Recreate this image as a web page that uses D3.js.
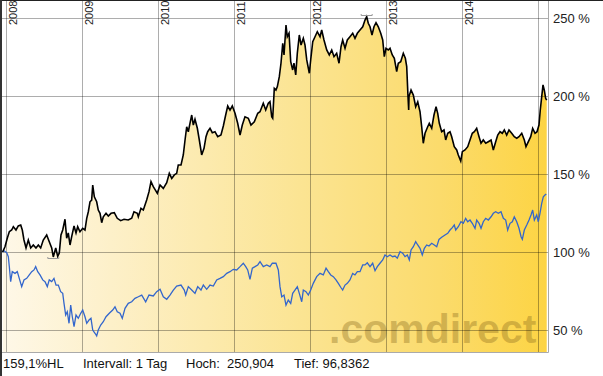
<!DOCTYPE html>
<html>
<head>
<meta charset="utf-8">
<script src="https://cdn.jsdelivr.net/npm/d3@7"></script>
<style>
body { margin: 0; background: #fff; }
svg { display: block; font-family: "Liberation Sans", Arial, sans-serif; }
</style>
</head>
<body>
<script>
// stock, indexed to 100 at start (time as fractional years)
var stockT = [
	2007.950, 2007.980, 2008.011, 2008.037, 2008.068, 2008.090, 2008.125, 2008.155, 2008.187, 2008.208,
	2008.230, 2008.257, 2008.287, 2008.319, 2008.353, 2008.388, 2008.419, 2008.450, 2008.484, 2008.529,
	2008.563, 2008.595, 2008.616, 2008.648, 2008.674, 2008.695, 2008.717, 2008.740, 2008.770, 2008.792,
	2008.813, 2008.836, 2008.858, 2008.889, 2008.915, 2008.937, 2008.967, 2009.003, 2009.033, 2009.056,
	2009.077, 2009.099, 2009.121, 2009.135, 2009.156, 2009.187, 2009.208, 2009.231, 2009.253, 2009.274,
	2009.310, 2009.340, 2009.376, 2009.419, 2009.458, 2009.503, 2009.547, 2009.603, 2009.648, 2009.678,
	2009.722, 2009.735, 2009.770, 2009.801, 2009.845, 2009.876, 2009.902, 2009.932, 2009.964, 2009.985,
	2010.021, 2010.064, 2010.109, 2010.143, 2010.175, 2010.209, 2010.240, 2010.261, 2010.297, 2010.327,
	2010.350, 2010.372, 2010.393, 2010.415, 2010.438, 2010.459, 2010.481, 2010.512, 2010.538, 2010.569,
	2010.600, 2010.626, 2010.648, 2010.679, 2010.709, 2010.744, 2010.780, 2010.823, 2010.854, 2010.885,
	2010.912, 2010.942, 2010.972, 2011.008, 2011.043, 2011.074, 2011.104, 2011.139, 2011.183, 2011.218,
	2011.262, 2011.307, 2011.337, 2011.380, 2011.412, 2011.446, 2011.468, 2011.491, 2011.504, 2011.525,
	2011.547, 2011.565, 2011.591, 2011.613, 2011.636, 2011.653, 2011.679, 2011.696, 2011.719, 2011.741,
	2011.767, 2011.784, 2011.807, 2011.828, 2011.854, 2011.877, 2011.907, 2011.929, 2011.952, 2011.986,
	2012.004, 2012.031, 2012.061, 2012.091, 2012.127, 2012.149, 2012.179, 2012.215, 2012.249, 2012.281,
	2012.311, 2012.346, 2012.377, 2012.403, 2012.425, 2012.456, 2012.486, 2012.521, 2012.557, 2012.587,
	2012.618, 2012.653, 2012.689, 2012.719, 2012.741, 2012.762, 2012.785, 2012.811, 2012.837, 2012.864,
	2012.894, 2012.926, 2012.952, 2012.973, 2012.995, 2013.026, 2013.048, 2013.078, 2013.105, 2013.136,
	2013.157, 2013.189, 2013.223, 2013.250, 2013.268, 2013.285, 2013.294, 2013.298, 2013.325, 2013.355,
	2013.386, 2013.413, 2013.443, 2013.465, 2013.486, 2013.509, 2013.544, 2013.565, 2013.597, 2013.627,
	2013.654, 2013.676, 2013.697, 2013.728, 2013.759, 2013.781, 2013.808, 2013.838, 2013.860, 2013.894,
	2013.926, 2013.947, 2013.979, 2014.000, 2014.035, 2014.071, 2014.101, 2014.131, 2014.158, 2014.189,
	2014.220, 2014.246, 2014.276, 2014.308, 2014.342, 2014.378, 2014.408, 2014.439, 2014.466, 2014.496,
	2014.526, 2014.553, 2014.584, 2014.614, 2014.650, 2014.684, 2014.716, 2014.746, 2014.782, 2014.816,
	2014.838, 2014.869, 2014.900, 2014.926, 2014.957, 2014.983, 2015.009, 2015.026, 2015.045, 2015.062,
	2015.079, 2015.097, 2015.111
];
var stockV = [
	100.0, 103.4, 109.0, 113.0, 114.1, 116.2, 114.1, 116.7, 117.3, 114.1,
	107.7, 102.6, 107.7, 102.6, 104.5, 102.6, 104.5, 102.6, 107.7, 110.9,
	106.6, 102.6, 96.8362, 102.6, 97.2, 99.4, 110.9, 114.1, 121.0, 108.8,
	112.2, 104.5, 109.8, 116.7, 112.2, 116.2, 113.0, 115.2, 114.1, 121.6,
	125.8, 132.2, 133.3, 142.9, 135.4, 132.2, 126.9, 124.8, 118.8, 122.6,
	124.8, 123.1, 124.8, 125.2, 121.6, 120.1, 121.0, 120.5, 121.6, 125.8,
	124.8, 122.6, 128.0, 126.9, 133.3, 138.7, 145.1, 141.9, 139.3, 137.6,
	143.0, 140.8, 144.4, 150.4, 147.2, 149.4, 150.4, 155.8, 155.8, 162.2,
	171.8, 180.3, 177.1, 182.5, 187.8, 181.4, 185.1, 179.3, 171.8, 162.2,
	166.5, 173.9, 177.1, 179.3, 176.5, 177.1, 173.9, 175.0, 180.8, 187.8,
	193.6, 191.0, 193.6, 188.9, 182.5, 175.0, 181.4, 186.7, 185.7, 181.4,
	183.5, 188.9, 189.9, 195.3, 191.0, 195.3, 196.3, 186.7, 185.7, 204.9,
	203.8, 206.0, 212.4, 221.0, 233.8, 226.3, 245.5, 238.0, 240.2, 222.0,
	216.7, 221.0, 213.5, 227.4, 239.1, 232.7, 237.0, 232.7, 223.1, 214.6,
	223.1, 234.8, 238.0, 241.2, 238.0, 242.3, 235.9, 229.5, 226.3, 229.5,
	225.2, 227.4, 221.0, 231.6, 235.9, 230.6, 235.9, 238.0, 240.2, 237.0,
	240.2, 242.3, 244.4, 248.7, 250.904, 246.6, 244.4, 239.1, 244.4, 247.0,
	244.4, 240.2, 235.9, 225.2, 230.6, 229.5, 230.6, 226.3, 224.2, 215.6,
	221.0, 222.0, 227.4, 224.2, 218.8, 199.6, 191.0, 199.6, 203.8, 200.6,
	193.1, 196.3, 189.9, 180.3, 169.7, 176.1, 180.3, 182.5, 179.3, 187.8,
	193.1, 188.9, 182.5, 177.1, 178.2, 171.8, 176.1, 177.1, 173.9, 167.5,
	165.4, 162.2, 158.3, 164.3, 165.4, 167.5, 171.8, 176.1, 177.1, 179.3,
	173.9, 169.7, 171.8, 169.7, 170.7, 171.8, 165.4, 170.7, 175.0, 177.1,
	176.1, 178.2, 175.0, 178.2, 176.1, 173.9, 172.9, 173.9, 176.1, 171.8,
	167.5, 170.7, 173.9, 179.3, 176.1, 177.1, 181.4, 191.0, 199.6, 207.1,
	203.8, 198.5, 197.4
];

// comparison index
var indexT = [
	2007.937, 2007.967, 2008.003, 2008.024, 2008.037, 2008.055, 2008.076, 2008.112, 2008.142, 2008.168,
	2008.200, 2008.230, 2008.266, 2008.300, 2008.332, 2008.362, 2008.384, 2008.411, 2008.441, 2008.477,
	2008.507, 2008.537, 2008.563, 2008.595, 2008.625, 2008.652, 2008.682, 2008.713, 2008.740, 2008.757,
	2008.779, 2008.800, 2008.823, 2008.845, 2008.866, 2008.889, 2008.915, 2008.945, 2008.977, 2009.003,
	2009.033, 2009.056, 2009.086, 2009.112, 2009.135, 2009.165, 2009.187, 2009.208, 2009.240, 2009.274,
	2009.310, 2009.353, 2009.398, 2009.428, 2009.458, 2009.494, 2009.524, 2009.560, 2009.603, 2009.648,
	2009.691, 2009.735, 2009.780, 2009.832, 2009.876, 2009.932, 2009.977, 2010.021, 2010.064, 2010.109,
	2010.152, 2010.196, 2010.240, 2010.297, 2010.340, 2010.359, 2010.393, 2010.438, 2010.481, 2010.517,
	2010.560, 2010.591, 2010.635, 2010.679, 2010.722, 2010.767, 2010.810, 2010.854, 2010.899, 2010.942,
	2010.985, 2011.030, 2011.074, 2011.117, 2011.149, 2011.175, 2011.205, 2011.236, 2011.271, 2011.307,
	2011.337, 2011.380, 2011.425, 2011.468, 2011.499, 2011.547, 2011.578, 2011.600, 2011.623, 2011.653,
	2011.679, 2011.709, 2011.741, 2011.767, 2011.797, 2011.828, 2011.854, 2011.886, 2011.907, 2011.942,
	2011.973, 2012.004, 2012.038, 2012.083, 2012.127, 2012.170, 2012.206, 2012.236, 2012.268, 2012.302,
	2012.337, 2012.368, 2012.399, 2012.425, 2012.456, 2012.486, 2012.521, 2012.557, 2012.587, 2012.618,
	2012.653, 2012.689, 2012.719, 2012.749, 2012.785, 2012.820, 2012.851, 2012.881, 2012.916, 2012.952,
	2012.982, 2013.012, 2013.048, 2013.083, 2013.114, 2013.144, 2013.180, 2013.215, 2013.246, 2013.276,
	2013.302, 2013.325, 2013.355, 2013.386, 2013.413, 2013.443, 2013.473, 2013.500, 2013.531, 2013.561,
	2013.597, 2013.631, 2013.663, 2013.693, 2013.728, 2013.772, 2013.808, 2013.838, 2013.868, 2013.894,
	2013.913, 2013.947, 2013.982, 2014.013, 2014.044, 2014.071, 2014.101, 2014.131, 2014.167, 2014.189,
	2014.220, 2014.246, 2014.276, 2014.308, 2014.342, 2014.378, 2014.408, 2014.439, 2014.474, 2014.509,
	2014.540, 2014.571, 2014.597, 2014.628, 2014.658, 2014.684, 2014.716, 2014.746, 2014.773, 2014.790,
	2014.816, 2014.848, 2014.878, 2014.904, 2014.926, 2014.948, 2014.979, 2015.000, 2015.022, 2015.045,
	2015.066, 2015.088, 2015.105
];
var indexV = [
	100.0, 100.8, 99.6, 97.0, 90.6, 81.0, 87.4, 86.3, 87.4, 83.1,
	77.8, 82.1, 83.1, 85.3, 87.4, 88.5, 90.6, 87.4, 85.3, 82.1,
	81.0, 77.8, 82.1, 81.0, 83.1, 78.8, 78.8, 74.6, 73.5, 67.1,
	59.6, 61.7, 54.3, 66.0, 58.5, 52.1, 59.6, 57.5, 60.7, 62.8,
	58.5, 54.3, 56.4, 57.5, 50.0, 47.9, 46.2, 50.0, 53.2, 55.3,
	58.5, 60.7, 62.8, 64.9, 61.7, 60.7, 57.5, 63.9, 67.1, 68.1,
	70.3, 71.3, 72.4, 68.1, 72.4, 71.8, 74.6, 76.1, 71.3, 69.7,
	72.4, 75.6, 78.2, 78.8, 75.6, 72.4, 77.8, 75.6, 73.5, 77.8,
	75.6, 78.8, 76.1, 78.8, 78.2, 82.1, 83.1, 84.2, 86.3, 87.4,
	88.9, 88.5, 90.6, 92.8, 90.6, 88.5, 82.5, 89.6, 90.6, 91.7,
	93.8, 90.6, 91.7, 90.6, 92.8, 92.8, 88.5, 77.8, 71.3, 72.4,
	66.0, 69.2, 67.1, 73.5, 75.6, 77.8, 73.5, 68.1, 75.6, 74.6,
	72.4, 75.6, 79.9, 84.2, 86.3, 85.3, 89.6, 87.4, 85.3, 84.2,
	82.1, 79.9, 77.4, 75.6, 78.8, 79.9, 82.1, 86.3, 85.3, 87.4,
	87.4, 91.7, 91.7, 93.1, 90.6, 92.8, 88.0, 90.6, 92.8, 94.9,
	98.1, 97.0, 98.1, 97.0, 97.4, 96.0, 100.2, 99.2, 97.0, 98.1,
	94.9, 101.3, 103.4, 106.6, 104.5, 102.4, 98.1, 102.4, 104.5, 103.8,
	105.6, 104.5, 103.4, 108.1, 109.4, 110.9, 112.0, 114.1, 115.6, 117.3,
	114.1, 116.2, 119.4, 118.4, 121.6, 119.4, 120.5, 118.4, 115.2, 120.5,
	118.4, 115.2, 119.4, 121.6, 120.5, 122.6, 124.8, 125.8, 124.8, 125.8,
	121.6, 120.5, 114.1, 118.4, 119.4, 122.6, 119.4, 115.2, 109.8, 108.1,
	114.1, 117.3, 120.5, 123.7, 126.9, 120.5, 123.7, 119.4, 124.8, 131.2,
	135.4, 136.5, 137.2
];

var yearTicks = [2008, 2009, 2010, 2011, 2012, 2013, 2014, 2015];
var yearLabels = ["2008", "2009", "2010", "2011", "2012", "2013", "2014"];
var pctTicks = [50, 100, 150, 200, 250];
var footerTexts = ["159,1%HL", "Intervall: 1 Tag", "Hoch:", "250,904", "Tief: 96,8362"];
var watermark = ".comdirect";

var width = 603,
	height = 376;

var plotLeft = 2,
	plotRight = 548.5,
	plotTop = 1,
	plotBottom = 352.5;

var stock = stockT.map(function(t, i){ return {t: t, v: stockV[i]} });
var index = indexT.map(function(t, i){ return {t: t, v: indexV[i]} });

var xScale = d3.scaleLinear()
	.domain([2008, 2015])
	.range([6.5, 538.3])

var yScale = d3.scaleLinear()
	.domain([50, 250])
	.range([330, 18])

var svg = d3.select('body').append('svg')
	.attr('width', width)
	.attr('height', height)

var defs = svg.append('defs')

var grad = defs.append('linearGradient')
	.attr('id', 'fillGrad')
	.attr('gradientUnits', 'userSpaceOnUse')
	.attr('x1', plotLeft).attr('y1', 0)
	.attr('x2', plotRight).attr('y2', 0)

grad.selectAll('stop')
	.data([[0, '#fef8e8'], [0.2, '#fdf0c9'], [0.55, '#fbe492'], [0.8, '#fbdb6c'], [1, '#fdd443']])
	.enter().append('stop')
		.attr('offset', function(d){ return d[0] })
		.attr('stop-color', function(d){ return d[1] })

defs.append('clipPath').attr('id', 'plotClip')
	.append('rect')
		.attr('x', plotLeft)
		.attr('y', plotTop)
		.attr('width', plotRight - plotLeft)
		.attr('height', plotBottom - plotTop)

var plot = svg.append('g').attr('clip-path', 'url(#plotClip)')

// area under the stock line
var area = d3.area()
	.x(function(d){ return xScale(d.t) })
	.y0(plotBottom)
	.y1(function(d){ return yScale(d.v) })

plot.append('path')
	.datum(stock)
	.attr('d', area)
	.attr('fill', 'url(#fillGrad)')

// watermark
plot.append('text')
	.attr('x', 329)
	.attr('y', 343)
	.style('font-size', '41px')
	.style('font-weight', 'bold')
	.style('fill', '#8c6d1f')
	.style('fill-opacity', 0.38)
	.text(watermark)

// grid
plot.selectAll('.vgrid')
	.data(yearTicks)
	.enter().append('line')
		.attr('x1', function(d){ return Math.floor(xScale(d)) + 0.5 })
		.attr('x2', function(d){ return Math.floor(xScale(d)) + 0.5 })
		.attr('y1', plotTop)
		.attr('y2', plotBottom)
		.style('stroke', 'rgba(0,0,0,0.32)')

plot.selectAll('.hgrid')
	.data(pctTicks)
	.enter().append('line')
		.attr('x1', plotLeft)
		.attr('x2', plotRight)
		.attr('y1', function(d){ return Math.round(yScale(d)) + 0.5 })
		.attr('y2', function(d){ return Math.round(yScale(d)) + 0.5 })
		.style('stroke', 'rgba(0,0,0,0.32)')

var line = d3.line()
	.x(function(d){ return xScale(d.t) })
	.y(function(d){ return yScale(d.v) })

plot.append('path')
	.datum(index)
	.attr('d', line)
	.attr('fill', 'none')
	.attr('stroke', '#3366cc')
	.attr('stroke-width', 1.3)

plot.append('path')
	.datum(stock)
	.attr('d', line)
	.attr('fill', 'none')
	.attr('stroke', '#000')
	.attr('stroke-width', 1.6)

// high / low markers
var hi = stock[d3.maxIndex(stock, function(d){ return d.v })];
var lo = stock[d3.minIndex(stock, function(d){ return d.v })];
[[hi, -1.5], [lo, 1]].forEach(function(m){
	var cx = xScale(m[0].t), cy = Math.round(yScale(m[0].v) + m[1]) + 0.5;
	plot.append('path')
		.attr('d', 'M' + (cx - 5.5) + ',' + (cy - 1.5) + 'V' + cy + 'H' + (cx + 5.5) + 'V' + (cy - 1.5))
		.attr('fill', 'none')
		.attr('stroke', '#999')
})

// year labels, rotated
svg.selectAll('.year')
	.data(yearLabels)
	.enter().append('text')
		.attr('transform', function(d){ return 'translate(' + (Math.floor(xScale(+d)) + 11) + ',25) rotate(-90)' })
		.style('font-size', '11px')
		.style('fill', '#222')
		.text(function(d){ return d })

// frame
svg.append('path')
	.attr('d', 'M' + plotLeft + ',' + plotBottom + 'H' + plotRight + 'V0')
	.attr('fill', 'none')
	.attr('stroke', '#aaa')

svg.append('rect')
	.attr('x', 0).attr('y', 0)
	.attr('width', width).attr('height', 1)
	.attr('fill', '#222')

svg.append('rect')
	.attr('x', 0).attr('y', 0)
	.attr('width', 2).attr('height', height)
	.attr('fill', '#333')

// right axis labels
svg.selectAll('.pct')
	.data(pctTicks)
	.enter().append('text')
		.attr('x', 553)
		.attr('y', function(d){ return yScale(d) })
		.attr('dy', '0.35em')
		.style('font-size', '13px')
		.style('fill', '#222')
		.text(function(d){ return d + ' %' })

// footer
var footerX = [3, 83, 186, 227, 294];
svg.selectAll('.footer')
	.data(footerTexts)
	.enter().append('text')
		.attr('x', function(d, i){ return footerX[i] })
		.attr('y', 368)
		.style('font-size', '13px')
		.style('fill', '#111')
		.text(function(d){ return d })
</script>
</body>
</html>
